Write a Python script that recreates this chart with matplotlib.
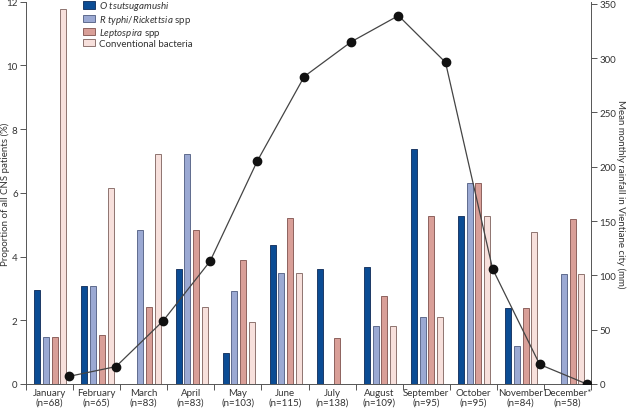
import matplotlib
matplotlib.use("Agg")
import matplotlib.pyplot as plt
from matplotlib.patches import Patch
import numpy as np

months = ["January", "February", "March", "April", "May", "June", "July",
          "August", "September", "October", "November", "December*"]
n_patients = [68, 65, 83, 83, 103, 115, 138, 109, 95, 95, 84, 58]

o_tsutsugamushi = [2.94, 3.08, 0.0, 3.61, 0.97, 4.35, 3.62, 3.67, 7.37, 5.26, 2.38, 0.0]
r_typhi = [1.47, 3.08, 4.82, 7.23, 2.91, 3.48, 0.0, 1.83, 2.11, 6.32, 1.19, 3.45]
leptospira = [1.47, 1.54, 2.41, 4.82, 3.88, 5.22, 1.45, 2.75, 5.26, 6.32, 2.38, 5.17]
conventional = [11.76, 6.15, 7.23, 2.41, 1.94, 3.48, 0.0, 1.83, 2.11, 5.26, 4.76, 3.45]

rainfall = [7, 16, 58, 113, 205, 283, 315, 339, 296, 106, 18, 0]

series = [o_tsutsugamushi, r_typhi, leptospira, conventional]
labels = [r"$\it{O\ tsutsugamushi}$", r"$\it{R\ typhi/Rickettsia}$ spp",
          r"$\it{Leptospira}$ spp", "Conventional bacteria"]
fills = ["#0b4c94", "#9ba9d3", "#d99f98", "#f7e0dc"]
edges = ["#1d3a66", "#5f6b8e", "#8e625e", "#8e7470"]

plt.rcParams['font.family'] = ['Lato', 'DejaVu Sans']
plt.rcParams['mathtext.fontset'] = 'custom'
plt.rcParams['mathtext.it'] = 'Lato:italic'
plt.rcParams['mathtext.rm'] = 'Lato'

fig = plt.figure(figsize=(6.27, 4.10), dpi=100)
ax = fig.add_axes([26/627, 1-385/410, (591-26)/627, (385-2.7)/410])
axc = "#555555"
tc = "#333333"
fs = 7

x = np.arange(12) + 0.5
offsets = [-0.26, -0.075, 0.11, 0.295]
width = 0.127
for s, lab, fc, ec, off in zip(series, labels, fills, edges, offsets):
    ax.bar(x + off, s, width=width, color=fc, edgecolor=ec, linewidth=0.7, label=lab)

ax.set_xlim(0, 12)
ax.set_ylim(0, 12)
ax.set_yticks(range(0, 13, 2))
ax.set_xticks(x)
ax.set_xticklabels([f"{m}\n(n={n})" for m, n in zip(months, n_patients)], fontsize=fs, color=tc, linespacing=1.1)
ax.set_xticks(np.arange(0, 13), minor=True)
ax.tick_params(axis='x', which='major', length=0, pad=3)
ax.tick_params(axis='x', which='minor', length=4, direction='out', color=axc, width=0.7)
ax.tick_params(axis='y', length=4, direction='out', color=axc, width=0.7, labelsize=fs, labelcolor=tc, pad=2)
ax.set_ylabel("Proportion of all CNS patients (%)", fontsize=fs, color=tc, va='center')
ax.yaxis.set_label_coords(-0.036, 0.5)
for sp in ["top", "right"]:
    ax.spines[sp].set_visible(False)
for sp in ["left", "bottom"]:
    ax.spines[sp].set_color(axc)
    ax.spines[sp].set_linewidth(0.7)

ax2 = ax.twinx()
ax2.plot(np.arange(12) + 0.91, rainfall, color="#444444", linewidth=0.9,
         marker='o', markersize=6, markerfacecolor="#111111", markeredgecolor="#111111", zorder=5)
ax2.set_ylim(0, 350 * 382.3 / 380.3)
ax2.set_yticks(range(0, 351, 50))
ax2.tick_params(axis='y', length=4, direction='out', color=axc, width=0.7, labelsize=fs, labelcolor=tc, pad=2)
ax2.set_ylabel("Mean monthly rainfall in Vientiane city (mm)", fontsize=fs, color=tc, rotation=270, va='center')
ax2.yaxis.set_label_coords(1.052, 0.5)
for sp in ["top", "left", "bottom"]:
    ax2.spines[sp].set_visible(False)
ax2.spines["right"].set_color(axc)
ax2.spines["right"].set_linewidth(0.7)

handles = [Patch(facecolor=fc, edgecolor=ec, linewidth=0.7) for fc, ec in zip(fills, edges)]
leg = ax.legend(handles, labels, loc='upper left', bbox_to_anchor=(0.1, 1.006), frameon=False,
                fontsize=fs, handlelength=1.25, handleheight=0.75, handletextpad=0.4, labelspacing=0.02,
                borderaxespad=0, borderpad=0, labelcolor=tc)

fig.savefig("out.png", dpi=100)
